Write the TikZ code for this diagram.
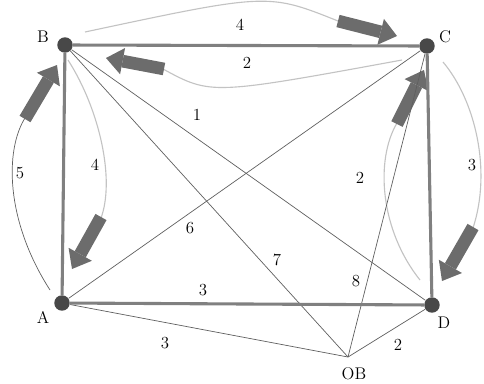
\documentclass[tikz,border=0pt]{standalone}
\usepackage{tikz}
\usetikzlibrary{arrows.meta}
\definecolor{dotgray}{RGB}{72,72,72}
\definecolor{roadgray}{RGB}{128,128,128}
\definecolor{linkgray}{RGB}{95,95,95}
\definecolor{swinggray}{RGB}{195,195,195}
\definecolor{fatgray}{RGB}{108,108,108}

\begin{document}
\begin{tikzpicture}[x=0.025cm,y=-0.025cm,
  vertex/.style={circle,fill=dotgray,minimum size=11pt,inner sep=0pt},
  road/.style={draw=roadgray,line width=2.2pt},
  link/.style={draw=linkgray,line width=0.5pt},
  swing/.style={draw=swinggray,line width=0.8pt},
  fat/.style={draw=fatgray,line width=9pt,-{Triangle[length=12pt,width=19pt,line width=0pt]}},
  lbl/.style={font=\large}]
\useasboundingbox (0,0) rectangle (484,383);

% cities and the depot
\node[vertex] (B) at (65,45) {};
\node[vertex] (C) at (427,46) {};
\node[vertex] (A) at (62,303) {};
\node[vertex] (D) at (432,305) {};
\coordinate (OB) at (348,357);

% curved moves with their block arrows
\draw[swing] (85,32) .. controls (268,-7) .. (338,21);
\draw[fat] (338,21) -- (397,36);
\draw[swing] (402,60) .. controls (211,95) .. (163,69);
\draw[fat] (164,69) -- (106,58);
\draw[link] (50,290) .. controls (5,220) and (5,150) .. (25,118);
\draw[fat] (25,119) -- (57,65);
\draw[swing] (68,60) .. controls (100,110) and (115,180) .. (101,218);
\draw[fat] (101,217) -- (72,269);
\draw[swing] (420,280) .. controls (380,230) and (375,160) .. (397,123);
\draw[fat] (397,124) -- (424,70);
\draw[swing] (443,62) .. controls (475,100) and (492,170) .. (473,228);
\draw[fat] (473,227) -- (442,281);

% thin connections
\draw[link] (B) -- (D);
\draw[link] (B) -- (OB);
\draw[link] (A) -- (C);
\draw[link] (C) -- (OB);
\draw[link] (A) -- (OB);
\draw[link] (D) -- (OB);

% main roads
\draw[road] (B) -- (C);
\draw[road] (B) -- (A);
\draw[road] (A) -- (D);
\draw[road] (C) -- (D);

% names
\node[lbl] (nB) at (43,37) {B};
\node[lbl] (nC) at (445,37) {C};
\node[lbl] (nA) at (43,317) {A};
\node[lbl] (nD) at (444,323) {D};
\node[lbl] (nOB) at (354,374) {OB};

% weights
\node[lbl] (wtop) at (240,25) {4};
\node[lbl] (wBC) at (247,63) {2};
\node[lbl] (wleft) at (20,173) {5};
\node[lbl] (winl) at (95,165) {4};
\node[lbl] (wBD) at (197,115) {1};
\node[lbl] (wAC) at (190,228) {6};
\node[lbl] (wBO) at (277,260) {7};
\node[lbl] (wCO) at (356,281) {8};
\node[lbl] (winr) at (360,178) {2};
\node[lbl] (wright) at (472,165) {3};
\node[lbl] (wAD) at (203,290) {3};
\node[lbl] (wAO) at (165,343) {3};
\node[lbl] (wDO) at (398,345) {2};
\end{tikzpicture}
\end{document}
